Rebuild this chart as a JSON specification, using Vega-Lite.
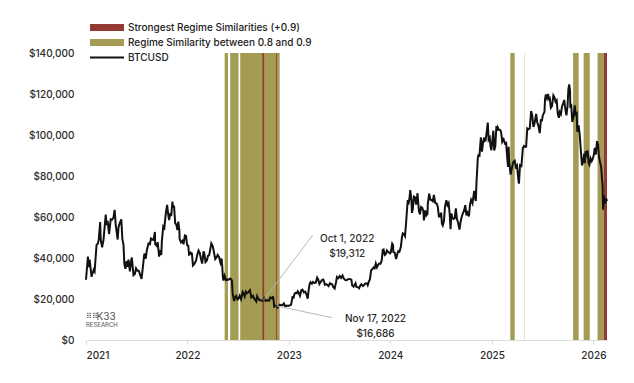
{
  "$schema": "https://vega.github.io/schema/vega-lite/v6.json",
  "width": 521,
  "height": 287,
  "autosize": {"type": "none"},
  "padding": {"left": 86, "top": 53, "right": 27, "bottom": 43},
  "background": "white",
  "config": {
    "view": {"stroke": null},
    "font": "Inter",
    "text": {"font": "Inter"}
  },
  "datasets": {
    "bands": [
      {"start": "2022-05-15", "end": "2022-05-27", "cat": "Regime Similarity between 0.8 and 0.9"},
      {"start": "2022-06-04", "end": "2022-07-04", "cat": "Regime Similarity between 0.8 and 0.9"},
      {"start": "2022-07-10", "end": "2022-11-29", "cat": "Regime Similarity between 0.8 and 0.9"},
      {"start": "2025-03-08", "end": "2025-03-24", "cat": "Regime Similarity between 0.8 and 0.9"},
      {"start": "2025-04-27", "end": "2025-04-28", "cat": "Regime Similarity between 0.8 and 0.9"},
      {"start": "2025-10-20", "end": "2025-11-09", "cat": "Regime Similarity between 0.8 and 0.9"},
      {"start": "2025-11-27", "end": "2025-12-19", "cat": "Regime Similarity between 0.8 and 0.9"},
      {"start": "2026-01-16", "end": "2026-02-07", "cat": "Regime Similarity between 0.8 and 0.9"},
      {"start": "2022-09-28", "end": "2022-10-04", "cat": "Strongest Regime Similarities (+0.9)"},
      {"start": "2022-11-16", "end": "2022-11-19", "cat": "Strongest Regime Similarities (+0.9)"},
      {"start": "2026-02-07", "end": "2026-02-19", "cat": "Strongest Regime Similarities (+0.9)"}
    ],
    "ann": [
      {"date": "2022-10-01", "price": 19312, "ldate": "2023-03-28", "lprice": 51200, "tdate": "2023-07-30", "tprice": 49200, "label": ["Oct 1, 2022", "$19,312"]},
      {"date": "2022-11-17", "price": 16686, "ldate": "2023-06-04", "lprice": 10900, "tdate": "2023-11-09", "tprice": 10400, "label": ["Nov 17, 2022", "$16,686"]}
    ],
    "logo": [
      {"date": "2021-02-08", "price": 11100, "text": "K33", "kind": "big"},
      {"date": "2021-01-01", "price": 11300, "text": "⠿⠿", "kind": "icon"},
      {"date": "2021-01-01", "price": 7300, "text": "RESEARCH", "kind": "small"}
    ],
    "btc": [
      {"date": "2021-01-01", "price": 29400}, {"date": "2021-01-03", "price": 32800}, {"date": "2021-01-08", "price": 40700}, {"date": "2021-01-11", "price": 35500}, {"date": "2021-01-14", "price": 39200}, {"date": "2021-01-21", "price": 30800}, {"date": "2021-01-24", "price": 32300}, {"date": "2021-01-29", "price": 34300},
      {"date": "2021-02-01", "price": 33500}, {"date": "2021-02-08", "price": 46400}, {"date": "2021-02-13", "price": 47100}, {"date": "2021-02-16", "price": 49200}, {"date": "2021-02-21", "price": 57500}, {"date": "2021-02-23", "price": 48800}, {"date": "2021-02-28", "price": 45200},
      {"date": "2021-03-05", "price": 48900}, {"date": "2021-03-13", "price": 61200}, {"date": "2021-03-16", "price": 56100}, {"date": "2021-03-20", "price": 58100}, {"date": "2021-03-25", "price": 51700}, {"date": "2021-03-31", "price": 58900},
      {"date": "2021-04-05", "price": 58700}, {"date": "2021-04-10", "price": 59800}, {"date": "2021-04-14", "price": 63500}, {"date": "2021-04-18", "price": 56200}, {"date": "2021-04-25", "price": 49000}, {"date": "2021-04-28", "price": 55000},
      {"date": "2021-05-03", "price": 57100}, {"date": "2021-05-08", "price": 58900}, {"date": "2021-05-12", "price": 49100}, {"date": "2021-05-16", "price": 46400}, {"date": "2021-05-19", "price": 37000}, {"date": "2021-05-23", "price": 34700}, {"date": "2021-05-27", "price": 38500}, {"date": "2021-05-30", "price": 35700},
      {"date": "2021-06-03", "price": 39200}, {"date": "2021-06-08", "price": 33500}, {"date": "2021-06-13", "price": 39100}, {"date": "2021-06-15", "price": 40200}, {"date": "2021-06-21", "price": 31600}, {"date": "2021-06-26", "price": 32200}, {"date": "2021-06-30", "price": 35000},
      {"date": "2021-07-05", "price": 33800}, {"date": "2021-07-10", "price": 33800}, {"date": "2021-07-15", "price": 31800}, {"date": "2021-07-20", "price": 29800}, {"date": "2021-07-26", "price": 37300}, {"date": "2021-07-30", "price": 42200},
      {"date": "2021-08-04", "price": 39700}, {"date": "2021-08-08", "price": 43800}, {"date": "2021-08-14", "price": 47100}, {"date": "2021-08-19", "price": 46700}, {"date": "2021-08-23", "price": 49500}, {"date": "2021-08-28", "price": 49000},
      {"date": "2021-09-01", "price": 48800}, {"date": "2021-09-06", "price": 52700}, {"date": "2021-09-07", "price": 46800}, {"date": "2021-09-12", "price": 46000}, {"date": "2021-09-16", "price": 47700}, {"date": "2021-09-21", "price": 40700}, {"date": "2021-09-25", "price": 42800}, {"date": "2021-09-29", "price": 41500},
      {"date": "2021-10-01", "price": 48100}, {"date": "2021-10-06", "price": 55400}, {"date": "2021-10-10", "price": 54700}, {"date": "2021-10-15", "price": 61600}, {"date": "2021-10-20", "price": 65900}, {"date": "2021-10-24", "price": 61000}, {"date": "2021-10-27", "price": 58500}, {"date": "2021-10-31", "price": 61300},
      {"date": "2021-11-04", "price": 61000}, {"date": "2021-11-08", "price": 67500}, {"date": "2021-11-10", "price": 64900}, {"date": "2021-11-14", "price": 65000}, {"date": "2021-11-18", "price": 56900}, {"date": "2021-11-22", "price": 56300}, {"date": "2021-11-26", "price": 53600}, {"date": "2021-11-29", "price": 57800},
      {"date": "2021-12-03", "price": 53600}, {"date": "2021-12-04", "price": 49200}, {"date": "2021-12-09", "price": 47600}, {"date": "2021-12-14", "price": 48400}, {"date": "2021-12-18", "price": 46700}, {"date": "2021-12-23", "price": 51000}, {"date": "2021-12-27", "price": 50800}, {"date": "2021-12-31", "price": 46300},
      {"date": "2022-01-04", "price": 46000}, {"date": "2022-01-07", "price": 41600}, {"date": "2022-01-10", "price": 41800}, {"date": "2022-01-13", "price": 42600}, {"date": "2022-01-17", "price": 42300}, {"date": "2022-01-21", "price": 36300}, {"date": "2022-01-24", "price": 36700}, {"date": "2022-01-28", "price": 37700},
      {"date": "2022-02-01", "price": 38700}, {"date": "2022-02-05", "price": 41400}, {"date": "2022-02-10", "price": 43600}, {"date": "2022-02-14", "price": 42600}, {"date": "2022-02-18", "price": 40100}, {"date": "2022-02-23", "price": 37300}, {"date": "2022-02-24", "price": 38300}, {"date": "2022-02-28", "price": 43200},
      {"date": "2022-03-03", "price": 42100}, {"date": "2022-03-07", "price": 38000}, {"date": "2022-03-12", "price": 38800}, {"date": "2022-03-16", "price": 41100}, {"date": "2022-03-20", "price": 41300}, {"date": "2022-03-24", "price": 44000}, {"date": "2022-03-28", "price": 47100},
      {"date": "2022-04-02", "price": 45800}, {"date": "2022-04-06", "price": 43200}, {"date": "2022-04-11", "price": 39500}, {"date": "2022-04-16", "price": 40400}, {"date": "2022-04-20", "price": 41500}, {"date": "2022-04-25", "price": 40400}, {"date": "2022-04-30", "price": 37700},
      {"date": "2022-05-04", "price": 39700}, {"date": "2022-05-06", "price": 36500}, {"date": "2022-05-09", "price": 30100}, {"date": "2022-05-11", "price": 29000}, {"date": "2022-05-15", "price": 31300}, {"date": "2022-05-20", "price": 29200}, {"date": "2022-05-25", "price": 29500}, {"date": "2022-05-29", "price": 29400},
      {"date": "2022-06-01", "price": 29800}, {"date": "2022-06-05", "price": 29900}, {"date": "2022-06-10", "price": 29100}, {"date": "2022-06-13", "price": 22500}, {"date": "2022-06-18", "price": 19000}, {"date": "2022-06-21", "price": 20700}, {"date": "2022-06-25", "price": 21500}, {"date": "2022-06-30", "price": 19800},
      {"date": "2022-07-04", "price": 20200}, {"date": "2022-07-08", "price": 21600}, {"date": "2022-07-13", "price": 19900}, {"date": "2022-07-19", "price": 23400}, {"date": "2022-07-22", "price": 22700}, {"date": "2022-07-26", "price": 21300}, {"date": "2022-07-30", "price": 23600},
      {"date": "2022-08-03", "price": 22800}, {"date": "2022-08-07", "price": 23200}, {"date": "2022-08-14", "price": 24300}, {"date": "2022-08-19", "price": 20800}, {"date": "2022-08-25", "price": 21600}, {"date": "2022-08-29", "price": 20300},
      {"date": "2022-09-06", "price": 18800}, {"date": "2022-09-09", "price": 21400}, {"date": "2022-09-13", "price": 20200}, {"date": "2022-09-18", "price": 19400}, {"date": "2022-09-22", "price": 19400}, {"date": "2022-09-26", "price": 19200},
      {"date": "2022-10-01", "price": 19312}, {"date": "2022-10-05", "price": 20300}, {"date": "2022-10-10", "price": 19100}, {"date": "2022-10-13", "price": 19400}, {"date": "2022-10-18", "price": 19300}, {"date": "2022-10-22", "price": 19200}, {"date": "2022-10-26", "price": 20800}, {"date": "2022-10-29", "price": 20600},
      {"date": "2022-11-03", "price": 20200}, {"date": "2022-11-05", "price": 21300}, {"date": "2022-11-08", "price": 18500}, {"date": "2022-11-09", "price": 15900}, {"date": "2022-11-12", "price": 16800}, {"date": "2022-11-17", "price": 16686}, {"date": "2022-11-21", "price": 15800}, {"date": "2022-11-25", "price": 16500}, {"date": "2022-11-30", "price": 17200},
      {"date": "2022-12-05", "price": 17000}, {"date": "2022-12-10", "price": 17100}, {"date": "2022-12-14", "price": 17800}, {"date": "2022-12-19", "price": 16400}, {"date": "2022-12-24", "price": 16800}, {"date": "2022-12-30", "price": 16600},
      {"date": "2023-01-04", "price": 16900}, {"date": "2023-01-09", "price": 17200}, {"date": "2023-01-14", "price": 20900}, {"date": "2023-01-18", "price": 20700}, {"date": "2023-01-22", "price": 22700}, {"date": "2023-01-26", "price": 23000}, {"date": "2023-01-30", "price": 22800},
      {"date": "2023-02-02", "price": 23700}, {"date": "2023-02-06", "price": 22900}, {"date": "2023-02-10", "price": 21600}, {"date": "2023-02-15", "price": 24300}, {"date": "2023-02-19", "price": 24600}, {"date": "2023-02-24", "price": 23200},
      {"date": "2023-03-01", "price": 23600}, {"date": "2023-03-05", "price": 22400}, {"date": "2023-03-10", "price": 20200}, {"date": "2023-03-13", "price": 24100}, {"date": "2023-03-17", "price": 27400}, {"date": "2023-03-20", "price": 28200}, {"date": "2023-03-25", "price": 27500}, {"date": "2023-03-29", "price": 28300},
      {"date": "2023-04-03", "price": 27800}, {"date": "2023-04-08", "price": 28000}, {"date": "2023-04-13", "price": 30400}, {"date": "2023-04-17", "price": 29400}, {"date": "2023-04-21", "price": 27300}, {"date": "2023-04-26", "price": 28400}, {"date": "2023-04-30", "price": 29200},
      {"date": "2023-05-05", "price": 29500}, {"date": "2023-05-11", "price": 26900}, {"date": "2023-05-15", "price": 27200}, {"date": "2023-05-19", "price": 26900}, {"date": "2023-05-24", "price": 26300}, {"date": "2023-05-29", "price": 27700},
      {"date": "2023-06-02", "price": 27200}, {"date": "2023-06-06", "price": 27200}, {"date": "2023-06-10", "price": 25800}, {"date": "2023-06-15", "price": 25100}, {"date": "2023-06-20", "price": 28300}, {"date": "2023-06-23", "price": 30700}, {"date": "2023-06-28", "price": 30100},
      {"date": "2023-07-03", "price": 31200}, {"date": "2023-07-08", "price": 30300}, {"date": "2023-07-13", "price": 31500}, {"date": "2023-07-18", "price": 29900}, {"date": "2023-07-24", "price": 29200}, {"date": "2023-07-29", "price": 29300},
      {"date": "2023-08-02", "price": 29700}, {"date": "2023-08-08", "price": 29800}, {"date": "2023-08-14", "price": 29400}, {"date": "2023-08-17", "price": 26600}, {"date": "2023-08-22", "price": 26000}, {"date": "2023-08-29", "price": 27700},
      {"date": "2023-09-01", "price": 25900}, {"date": "2023-09-06", "price": 25800}, {"date": "2023-09-11", "price": 25200}, {"date": "2023-09-15", "price": 26600}, {"date": "2023-09-19", "price": 27200}, {"date": "2023-09-25", "price": 26300}, {"date": "2023-09-30", "price": 27000},
      {"date": "2023-10-02", "price": 27500}, {"date": "2023-10-09", "price": 27600}, {"date": "2023-10-12", "price": 26700}, {"date": "2023-10-16", "price": 28500}, {"date": "2023-10-20", "price": 29700}, {"date": "2023-10-24", "price": 33900}, {"date": "2023-10-28", "price": 34500},
      {"date": "2023-11-02", "price": 35400}, {"date": "2023-11-06", "price": 35000}, {"date": "2023-11-10", "price": 37300}, {"date": "2023-11-14", "price": 35500}, {"date": "2023-11-18", "price": 36600}, {"date": "2023-11-22", "price": 37300}, {"date": "2023-11-27", "price": 37200},
      {"date": "2023-12-01", "price": 38700}, {"date": "2023-12-05", "price": 44000}, {"date": "2023-12-08", "price": 44200}, {"date": "2023-12-12", "price": 41500}, {"date": "2023-12-16", "price": 41900}, {"date": "2023-12-20", "price": 43700}, {"date": "2023-12-24", "price": 43000}, {"date": "2023-12-28", "price": 42600}, {"date": "2023-12-31", "price": 42300},
      {"date": "2024-01-03", "price": 42800}, {"date": "2024-01-08", "price": 47000}, {"date": "2024-01-11", "price": 46300}, {"date": "2024-01-12", "price": 42900}, {"date": "2024-01-17", "price": 42700}, {"date": "2024-01-22", "price": 39500}, {"date": "2024-01-26", "price": 41800}, {"date": "2024-01-30", "price": 43300},
      {"date": "2024-02-03", "price": 43000}, {"date": "2024-02-08", "price": 45300}, {"date": "2024-02-12", "price": 50000}, {"date": "2024-02-15", "price": 52000}, {"date": "2024-02-19", "price": 51800}, {"date": "2024-02-23", "price": 50700}, {"date": "2024-02-27", "price": 57100}, {"date": "2024-02-29", "price": 61200},
      {"date": "2024-03-04", "price": 68300}, {"date": "2024-03-06", "price": 66100}, {"date": "2024-03-10", "price": 68900}, {"date": "2024-03-13", "price": 73100}, {"date": "2024-03-17", "price": 68400}, {"date": "2024-03-19", "price": 62000}, {"date": "2024-03-22", "price": 63800}, {"date": "2024-03-26", "price": 70000}, {"date": "2024-03-30", "price": 69600},
      {"date": "2024-04-03", "price": 66000}, {"date": "2024-04-08", "price": 71600}, {"date": "2024-04-13", "price": 63000}, {"date": "2024-04-17", "price": 61300}, {"date": "2024-04-21", "price": 64900}, {"date": "2024-04-25", "price": 64500}, {"date": "2024-04-29", "price": 63100},
      {"date": "2024-05-01", "price": 58300}, {"date": "2024-05-06", "price": 63200}, {"date": "2024-05-10", "price": 60800}, {"date": "2024-05-14", "price": 61500}, {"date": "2024-05-15", "price": 66200}, {"date": "2024-05-20", "price": 71400}, {"date": "2024-05-24", "price": 68500}, {"date": "2024-05-28", "price": 68300},
      {"date": "2024-06-02", "price": 67700}, {"date": "2024-06-06", "price": 70800}, {"date": "2024-06-11", "price": 66800}, {"date": "2024-06-16", "price": 66600}, {"date": "2024-06-20", "price": 65000}, {"date": "2024-06-24", "price": 60300}, {"date": "2024-06-28", "price": 60300},
      {"date": "2024-07-02", "price": 62100}, {"date": "2024-07-05", "price": 56700}, {"date": "2024-07-08", "price": 55900}, {"date": "2024-07-12", "price": 57900}, {"date": "2024-07-16", "price": 65100}, {"date": "2024-07-21", "price": 68200}, {"date": "2024-07-25", "price": 65800}, {"date": "2024-07-29", "price": 66800},
      {"date": "2024-08-02", "price": 61400}, {"date": "2024-08-05", "price": 54000}, {"date": "2024-08-08", "price": 61700}, {"date": "2024-08-12", "price": 59400}, {"date": "2024-08-16", "price": 59000}, {"date": "2024-08-20", "price": 59400}, {"date": "2024-08-24", "price": 64200}, {"date": "2024-08-28", "price": 59000},
      {"date": "2024-09-01", "price": 57300}, {"date": "2024-09-06", "price": 53900}, {"date": "2024-09-10", "price": 57600}, {"date": "2024-09-14", "price": 60000}, {"date": "2024-09-18", "price": 61700}, {"date": "2024-09-23", "price": 63300}, {"date": "2024-09-27", "price": 65800},
      {"date": "2024-10-01", "price": 60800}, {"date": "2024-10-05", "price": 62100}, {"date": "2024-10-10", "price": 60300}, {"date": "2024-10-14", "price": 66000}, {"date": "2024-10-18", "price": 68400}, {"date": "2024-10-23", "price": 66700}, {"date": "2024-10-29", "price": 72700},
      {"date": "2024-11-01", "price": 69500}, {"date": "2024-11-04", "price": 67800}, {"date": "2024-11-06", "price": 76000}, {"date": "2024-11-11", "price": 88700}, {"date": "2024-11-13", "price": 90000}, {"date": "2024-11-17", "price": 89800}, {"date": "2024-11-22", "price": 98900}, {"date": "2024-11-26", "price": 91900}, {"date": "2024-11-30", "price": 96400},
      {"date": "2024-12-04", "price": 98800}, {"date": "2024-12-05", "price": 97000}, {"date": "2024-12-09", "price": 97400}, {"date": "2024-12-13", "price": 101400}, {"date": "2024-12-17", "price": 106100}, {"date": "2024-12-20", "price": 97700}, {"date": "2024-12-24", "price": 98700}, {"date": "2024-12-27", "price": 94300}, {"date": "2024-12-30", "price": 92600},
      {"date": "2025-01-03", "price": 98100}, {"date": "2025-01-06", "price": 102100}, {"date": "2025-01-09", "price": 92500}, {"date": "2025-01-13", "price": 94500}, {"date": "2025-01-17", "price": 104400}, {"date": "2025-01-20", "price": 102000}, {"date": "2025-01-22", "price": 103700}, {"date": "2025-01-26", "price": 102600}, {"date": "2025-01-31", "price": 102400},
      {"date": "2025-02-03", "price": 101400}, {"date": "2025-02-07", "price": 96600}, {"date": "2025-02-12", "price": 97900}, {"date": "2025-02-17", "price": 95800}, {"date": "2025-02-21", "price": 96100}, {"date": "2025-02-25", "price": 88700}, {"date": "2025-02-28", "price": 84400},
      {"date": "2025-03-02", "price": 94300}, {"date": "2025-03-04", "price": 87200}, {"date": "2025-03-09", "price": 80700}, {"date": "2025-03-14", "price": 84000}, {"date": "2025-03-19", "price": 86900}, {"date": "2025-03-24", "price": 87500}, {"date": "2025-03-28", "price": 84400},
      {"date": "2025-04-01", "price": 85200}, {"date": "2025-04-06", "price": 78200}, {"date": "2025-04-08", "price": 76300}, {"date": "2025-04-12", "price": 85300}, {"date": "2025-04-17", "price": 84900}, {"date": "2025-04-22", "price": 93500}, {"date": "2025-04-26", "price": 94600}, {"date": "2025-04-30", "price": 94200},
      {"date": "2025-05-04", "price": 94300}, {"date": "2025-05-08", "price": 103200}, {"date": "2025-05-12", "price": 102800}, {"date": "2025-05-17", "price": 103200}, {"date": "2025-05-22", "price": 111700}, {"date": "2025-05-26", "price": 109400}, {"date": "2025-05-30", "price": 104000},
      {"date": "2025-06-03", "price": 105500}, {"date": "2025-06-09", "price": 110300}, {"date": "2025-06-13", "price": 106100}, {"date": "2025-06-17", "price": 104600}, {"date": "2025-06-22", "price": 100900}, {"date": "2025-06-26", "price": 107200}, {"date": "2025-06-30", "price": 107100},
      {"date": "2025-07-03", "price": 109600}, {"date": "2025-07-09", "price": 111300}, {"date": "2025-07-11", "price": 117500}, {"date": "2025-07-14", "price": 119800}, {"date": "2025-07-18", "price": 117900}, {"date": "2025-07-22", "price": 120000}, {"date": "2025-07-25", "price": 117600}, {"date": "2025-07-28", "price": 118000},
      {"date": "2025-08-01", "price": 113300}, {"date": "2025-08-05", "price": 114100}, {"date": "2025-08-10", "price": 119300}, {"date": "2025-08-14", "price": 118300}, {"date": "2025-08-18", "price": 116200}, {"date": "2025-08-22", "price": 116900}, {"date": "2025-08-26", "price": 110100}, {"date": "2025-08-30", "price": 108400},
      {"date": "2025-09-02", "price": 111200}, {"date": "2025-09-06", "price": 110200}, {"date": "2025-09-10", "price": 113900}, {"date": "2025-09-14", "price": 115300}, {"date": "2025-09-18", "price": 117100}, {"date": "2025-09-22", "price": 112700}, {"date": "2025-09-26", "price": 109600}, {"date": "2025-09-30", "price": 114100},
      {"date": "2025-10-03", "price": 122300}, {"date": "2025-10-06", "price": 124700}, {"date": "2025-10-09", "price": 121700}, {"date": "2025-10-10", "price": 113200}, {"date": "2025-10-13", "price": 115200}, {"date": "2025-10-17", "price": 106400}, {"date": "2025-10-21", "price": 108500}, {"date": "2025-10-26", "price": 114500}, {"date": "2025-10-29", "price": 110100},
      {"date": "2025-11-02", "price": 110600}, {"date": "2025-11-04", "price": 101600}, {"date": "2025-11-09", "price": 104700}, {"date": "2025-11-13", "price": 99700}, {"date": "2025-11-17", "price": 92200}, {"date": "2025-11-21", "price": 85100}, {"date": "2025-11-25", "price": 87300}, {"date": "2025-11-29", "price": 90900},
      {"date": "2025-12-01", "price": 86300}, {"date": "2025-12-04", "price": 92100}, {"date": "2025-12-08", "price": 90600}, {"date": "2025-12-11", "price": 92500}, {"date": "2025-12-15", "price": 86400}, {"date": "2025-12-18", "price": 85500}, {"date": "2025-12-22", "price": 88600}, {"date": "2025-12-26", "price": 87300}, {"date": "2025-12-30", "price": 88400},
      {"date": "2026-01-03", "price": 90600}, {"date": "2026-01-06", "price": 93700}, {"date": "2026-01-10", "price": 90500}, {"date": "2026-01-14", "price": 97000}, {"date": "2026-01-18", "price": 95100}, {"date": "2026-01-21", "price": 89500}, {"date": "2026-01-25", "price": 86700}, {"date": "2026-01-29", "price": 84500},
      {"date": "2026-02-01", "price": 78600}, {"date": "2026-02-03", "price": 76000}, {"date": "2026-02-05", "price": 63500}, {"date": "2026-02-07", "price": 70500}, {"date": "2026-02-10", "price": 68800}, {"date": "2026-02-13", "price": 66500}, {"date": "2026-02-16", "price": 69000}, {"date": "2026-02-19", "price": 67800}
    ]
  },
  "layer": [
    {
      "data": {"name": "bands"},
      "mark": {"type": "rect"},
      "encoding": {
        "x": {
          "field": "start", "type": "temporal",
          "scale": {"domain": [{"year": 2021, "month": 1, "date": 1, "utc": true}, {"year": 2026, "month": 2, "date": 19, "utc": true}]},
          "axis": {
            "title": null, "format": "%Y", "tickCount": {"interval": "year", "step": 1},
            "labelFont": "Inter", "labelFontSize": 10, "labelFontWeight": 500, "labelColor": "#2b2b2b",
            "domainColor": "#dcdcdc", "tickColor": "#dcdcdc", "tickSize": 4, "labelPadding": 6, "grid": false
          }
        },
        "x2": {"field": "end"},
        "color": {
          "field": "cat", "type": "nominal",
          "scale": {
            "domain": ["Strongest Regime Similarities (+0.9)", "Regime Similarity between 0.8 and 0.9", "BTCUSD"],
            "range": ["#933b33", "#a49c52", "#111111"]
          },
          "legend": {
            "title": null, "orient": "none", "legendX": 12.5, "legendY": -34,
            "labelFont": "Inter", "labelFontSize": 10, "labelFontWeight": 500, "labelColor": "#222222", "labelLimit": 0,
            "symbolSize": 289, "symbolType": "M-2,-0.4H2V0.4H-2Z", "symbolStrokeWidth": 0,
            "rowPadding": 1, "labelOffset": 12.5,
            "encode": {
              "symbols": {
                "update": {
                  "shape": {"signal": "datum.value === 'BTCUSD' ? 'M-2,-0.12H2V0.12H-2Z' : 'M-2,-0.4H2V0.4H-2Z'"},
                  "fill": {"scale": "color", "field": "value"},
                  "opacity": {"value": 1},
                  "strokeWidth": {"value": 0}
                }
              }
            }
          }
        }
      }
    },
    {
      "data": {"name": "btc"},
      "mark": {"type": "line", "strokeWidth": 2, "interpolate": "linear"},
      "encoding": {
        "x": {"field": "date", "type": "temporal"},
        "y": {
          "field": "price", "type": "quantitative",
          "scale": {"domain": [0, 140000], "nice": false},
          "axis": {
            "title": null, "values": [0, 20000, 40000, 60000, 80000, 100000, 120000, 140000],
            "format": "$,.0f", "domain": false, "ticks": false, "tickSize": 0, "labelPadding": 12, "grid": false,
            "labelFont": "Inter", "labelFontSize": 10, "labelFontWeight": 500, "labelColor": "#2b2b2b"
          }
        },
        "color": {"datum": "BTCUSD"}
      }
    },
    {
      "data": {"name": "ann"},
      "mark": {"type": "rule", "color": "#b8b8b8", "strokeWidth": 1},
      "encoding": {
        "x": {"field": "date", "type": "temporal"},
        "y": {"field": "price", "type": "quantitative"},
        "x2": {"field": "ldate"},
        "y2": {"field": "lprice"}
      }
    },
    {
      "data": {"name": "ann"},
      "mark": {"type": "text", "font": "Inter", "fontSize": 10, "fontWeight": 500, "color": "#2b2b2b", "align": "center", "baseline": "middle", "lineHeight": 15},
      "encoding": {
        "x": {"field": "tdate", "type": "temporal"},
        "y": {"field": "tprice", "type": "quantitative"},
        "text": {"field": "label"}
      }
    },
    {
      "data": {"name": "logo"},
      "mark": {"type": "text", "align": "left", "baseline": "middle", "color": "#555555"},
      "encoding": {
        "x": {"field": "date", "type": "temporal"},
        "y": {"field": "price", "type": "quantitative"},
        "text": {"field": "text"},
        "size": {"field": "kind", "type": "nominal", "scale": {"domain": ["big", "icon", "small"], "range": [10, 6, 5.5]}, "legend": null},
        "font": {"value": "Inter"},
        "fontWeight": {"field": "kind", "type": "nominal", "scale": {"domain": ["big", "icon", "small"], "range": [400, 400, 700]}, "legend": null}
      }
    }
  ]
}
